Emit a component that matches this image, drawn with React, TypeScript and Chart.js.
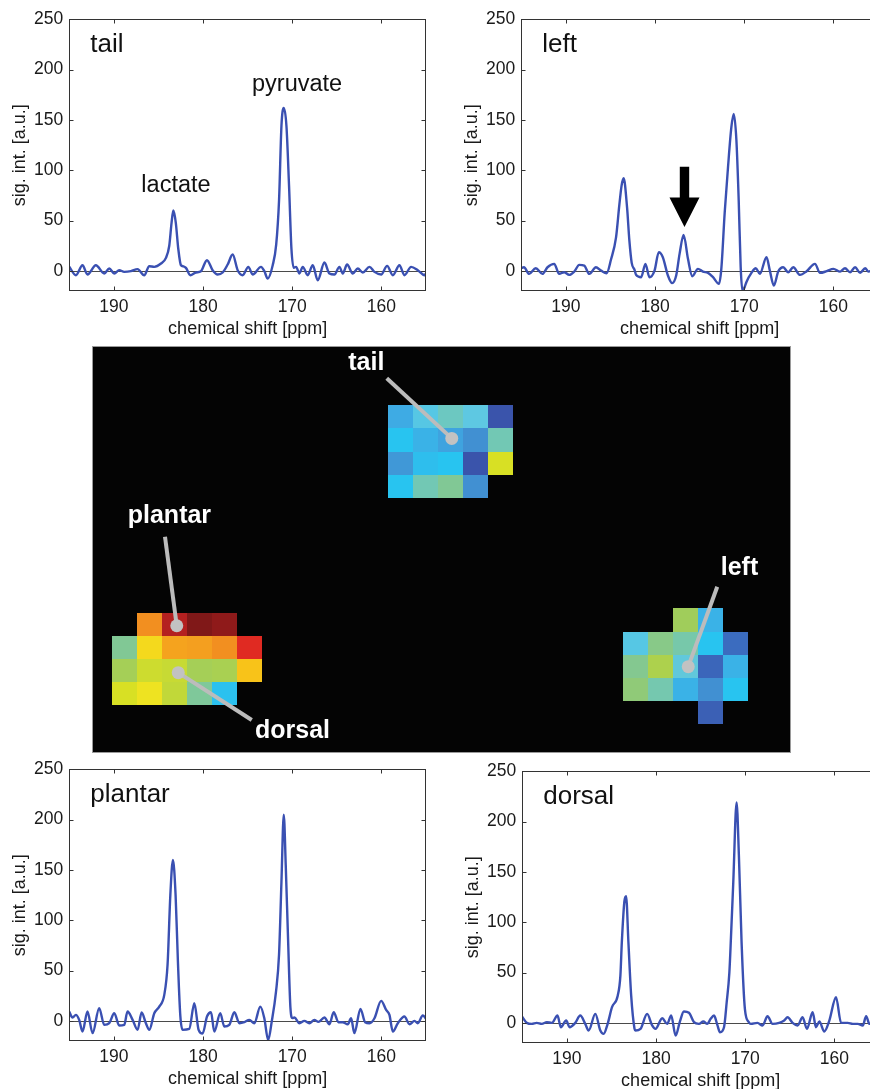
import React, { useEffect, useRef } from "react";
import { Chart, registerables } from "chart.js";

Chart.register(...registerables);

const FONT = "'Liberation Sans', Arial, Helvetica, sans-serif";

// ---------- axis ticks ----------
const ppmTicks = [190, 180, 170, 160];
const sigTicks = [0, 50, 100, 150, 200, 250];

// ---------- spectra (chemical shift [ppm], signal [a.u.]) ----------
const tailPpm = [195.0, 194.26, 193.52, 192.96, 192.02, 191.08, 190.52, 189.96, 189.4, 188.84, 188.09, 187.34, 186.6, 186.03, 185.47, 184.72, 184.16, 183.79, 183.53, 183.33, 183.06, 182.78, 182.48, 182.2, 181.92, 181.43, 180.8, 180.24, 179.56, 178.93, 178.37, 177.8, 177.24, 176.68, 176.12, 175.56, 174.92, 174.44, 173.5, 173.13, 172.75, 172.19, 171.8, 171.48, 171.21, 170.95, 170.65, 170.36, 170.09, 169.83, 169.57, 169.2, 168.82, 168.26, 167.7, 167.14, 166.39, 165.83, 165.27, 164.71, 164.34, 163.85, 163.21, 162.65, 162.09, 161.34, 160.78, 160.03, 159.36, 158.72, 157.98, 157.42, 156.67, 155.92, 155.17, 155.0];
const tailSig = [4.0, -4.3, 5.6, -3.6, 5.6, -2.6, 2.3, -2.6, 0.7, -1.0, -0.3, 1.7, -4.3, 4.6, 4.0, 7.3, 12.9, 25, 48, 60, 48, 22, 5.6, 4.5, 3, -4.3, -1.6, -0.3, 10.6, 0.7, -3.6, -1.6, 6.3, 16.2, 0.7, -4.3, 4.0, -3.6, 4.0, -0.3, -7.6, 5.6, 26, 70, 144, 162, 144, 85, 22, 3, 4.0, -2.6, 4.0, -4.3, 5.6, -9.3, 8.3, -2.6, -3.6, 4.0, -2.6, 6.3, -2.6, 2.3, -1.6, 4.0, -1.0, -3.6, 5.0, -4.3, 5.6, -4.3, 4.0, 0.7, -4.3, -2.6];

const leftPpm = [195.06, 194.7, 194.12, 193.38, 192.63, 192.06, 191.31, 190.75, 190.19, 189.63, 189.06, 188.5, 187.94, 187.38, 186.63, 186.06, 185.43, 184.94, 184.38, 184.0, 183.75, 183.52, 183.14, 182.88, 182.62, 182.3, 182.13, 181.56, 181.08, 180.63, 180.06, 179.58, 179.13, 178.56, 178.08, 177.63, 177.25, 176.8, 176.31, 175.83, 175.19, 174.63, 174.06, 173.5, 172.83, 172.57, 172.19, 171.82, 171.44, 171.18, 170.88, 170.62, 170.4, 170.2, 169.95, 169.75, 169.19, 168.7, 168.25, 167.5, 167.13, 166.68, 166.19, 165.63, 165.07, 164.5, 163.75, 163.0, 162.07, 161.5, 160.75, 160.0, 159.25, 158.7, 158.13, 157.57, 157.0, 156.44, 156.07, 155.5, 155.0];
const leftSig = [2.6, 3.6, -3.0, 2.6, -3.0, 3.6, 7.0, -3.0, -1.3, -4.0, -0.7, 6.0, 5.3, -3.0, 3.6, 0.3, -2.3, 11.3, 33, 66, 85, 92, 63, 30, 8, 1, -4, -6.3, 7, -6.3, 0.3, 18.5, 13.6, -4.6, -12.2, -4.6, 16.9, 35.7, 12, -5.3, 2, -0.7, -2, -6.3, -12.9, 2, 58, 103, 143, 156, 130, 70, 4, -20, -16, -11, -2, 2.6, -3, 13.6, 0.3, -14.6, -0.7, 3.6, -1.3, 3.6, -4, -0.3, 7, -2, -0.3, 2, -0.7, 2.6, -1.3, 3.6, -2, 2.6, -0.7, 1, 0];

const plantarPpm = [195.01, 194.64, 194.26, 193.89, 193.52, 192.96, 192.39, 191.65, 191.08, 190.52, 189.96, 189.4, 188.84, 188.47, 187.9, 187.34, 186.89, 186.41, 186.03, 185.47, 184.91, 184.35, 183.98, 183.67, 183.38, 183.08, 182.82, 182.55, 182.29, 181.55, 180.98, 180.5, 180.05, 179.56, 179.11, 178.74, 178.07, 177.62, 177.06, 176.49, 175.93, 175.37, 174.81, 174.25, 173.58, 173.13, 172.7, 172.3, 171.82, 171.48, 171.21, 170.95, 170.73, 170.47, 170.2, 169.98, 169.76, 169.2, 168.64, 168.08, 167.52, 167.07, 166.39, 165.83, 165.35, 164.82, 164.34, 163.77, 163.4, 163.03, 162.35, 161.83, 161.34, 160.78, 160.03, 159.47, 159.1, 158.72, 158.16, 157.42, 156.85, 156.29, 155.92, 155.36, 154.98];
const plantarSig = [9.3, 3.3, 6, 1, -10.6, 9.3, -12.2, 12.6, -4, -2.3, 7.6, -4.6, -4, 9.3, 1, -8.9, 8.3, -2.3, -8.9, 7.6, 14.2, 25.8, 56, 125, 160, 125, 59, 5, -8.9, -8, 17.5, -8.9, -12.6, 4.3, 8.6, -10.6, 7.6, -5.6, -4, 8.6, -2.3, -1.3, 1, -2.3, 14.2, 2.6, -19, -0.7, 29, 66, 138, 205, 155, 82, 12.6, 2.7, 3.3, -2.3, 0, -2.3, 1, -1, 3.3, -3.3, 8.6, -1.3, -1.3, -3.3, 2.6, -12.2, 11.9, -1.3, -2.3, 2.6, 19.9, 10.9, 6, -10.6, -2.3, 4.3, -3.3, 0, -2.3, 5.3, 2];

const dorsalPpm = [195.06, 194.5, 193.94, 193.38, 192.81, 192.25, 191.69, 191.05, 190.68, 190.08, 189.7, 189.06, 188.5, 187.94, 187.56, 186.81, 186.25, 185.88, 185.43, 184.94, 184.3, 184.0, 183.84, 183.55, 183.36, 183.1, 182.79, 182.42, 182.31, 181.75, 181.0, 180.44, 180.06, 179.31, 178.75, 178.3, 177.81, 177.33, 176.88, 176.31, 175.75, 175.19, 174.7, 174.25, 173.88, 173.5, 173.13, 172.83, 172.38, 172.08, 171.78, 171.6, 171.34, 170.97, 170.71, 170.41, 170.04, 169.59, 169.38, 168.63, 168.06, 167.5, 166.94, 166.19, 165.63, 165.25, 164.69, 164.13, 163.57, 163.08, 162.44, 162.07, 161.69, 161.13, 160.57, 159.82, 159.25, 158.5, 157.94, 157.38, 156.82, 156.44, 156.07, 155.5, 155.0];
const dorsalSig = [6.6, 0, -1, 0, -1, 0.7, 0, 7.3, -4.3, 2.3, -4.3, 0, 7.3, -1, -7.6, 8.9, -7.6, -10.9, -1, 15.6, 27, 47, 80, 121, 126, 80, 27, -5.7, -7.6, -6, 8.9, -2.6, -6, 4.6, -1, 7.3, -12.6, 1.3, 11.3, 10, 0.7, -1, 1.3, -1, 4, 7.3, -2, -9.3, -4.3, 20.5, 50, 85, 140, 219, 166, 80, 14, 0.6, -1, 0, -2.6, 6.6, -1, 0, 2.3, 5.6, 0, -2.6, 5.6, -6, 10.6, -4.3, 1.3, -8.6, 2.3, 25.5, 0, 0, -1, -1, -2.6, 6.6, -1, 0, 1];

// annotations inside spectra
const tailNotes = [
  { text: "lactate", ppm: 186.92, sig: 78.5 },
  { text: "pyruvate", ppm: 174.51, sig: 178.9 },
];
const leftArrow = { ppm: 176.7, top: 103.5, neck: 73, tip: 43.7 };

// ---------- voxel map (values 0..1 mapped through colormap) ----------
const tailVoxels = [
  [0.25, 0.39, 0.45, 0.40, 0.02],
  [0.33, 0.27, 0.23, 0.18, 0.47],
  [0.20, 0.31, 0.33, 0.02, 0.72],
  [0.33, 0.47, 0.53, 0.18, null],
];
const footVoxels = [
  [null, 0.885, 0.965, 1.0, 0.99, null],
  [0.53, 0.80, 0.87, 0.875, 0.885, 0.93],
  [0.62, 0.70, 0.69, 0.62, 0.63, 0.835],
  [0.72, 0.77, 0.68, 0.52, 0.32, null],
];
const leftVoxels = [
  [null, null, 0.61, 0.27, null],
  [0.39, 0.55, 0.49, 0.33, 0.10],
  [0.54, 0.64, 0.41, 0.08, 0.27],
  [0.57, 0.48, 0.27, 0.18, 0.33],
  [null, null, null, 0.06, null],
];
// voxel-grid origins of each slab (in voxel units)
const tailOrigin = [11.85, 2.57];
const footOrigin = [0.81, 11.56];
const leftOrigin = [21.25, 11.36];

const cmapPos = [0.0, 0.1, 0.18, 0.26, 0.33, 0.4, 0.47, 0.54, 0.6, 0.66, 0.72, 0.78, 0.83, 0.88, 0.93, 0.965, 1.0];
const cmapColors = ["#3a4ea6", "#3b6cbf", "#4190d2", "#3dafe6", "#28c4f0", "#5ec8e2", "#72c8b4", "#84c890", "#9ccc60", "#b6d444", "#d8e024", "#f2e420", "#f8c818", "#f49a20", "#e02a22", "#b42020", "#801818"];

// callouts: text anchor, line start, dot (voxel units)
const callouts = [
  { text: "tail", tx: 10.25, ty: 1.04, lx: 11.79, ly: 1.4, dx: 14.39, dy: 4.0 },
  { text: "plantar", tx: 1.43, ty: 7.68, lx: 2.92, ly: 8.26, dx: 3.39, dy: 12.11 },
  { text: "dorsal", tx: 6.52, ty: 16.98, lx: 6.39, ly: 16.19, dx: 3.45, dy: 14.14 },
  { text: "left", tx: 25.15, ty: 9.91, lx: 25.01, ly: 10.42, dx: 23.85, dy: 13.88 },
];

function hexToRgb(h: string) {
  const n = parseInt(h.slice(1), 16);
  return [(n >> 16) & 255, (n >> 8) & 255, n & 255];
}
function cmap(v: number) {
  for (let i = 0; i < cmapPos.length - 1; i++) {
    if (v <= cmapPos[i + 1]) {
      const t = (v - cmapPos[i]) / (cmapPos[i + 1] - cmapPos[i]);
      const a = hexToRgb(cmapColors[i]);
      const b = hexToRgb(cmapColors[i + 1]);
      const c = a.map((x, k) => Math.round(x + (b[k] - x) * t));
      return `rgb(${c[0]},${c[1]},${c[2]})`;
    }
  }
  return cmapColors[cmapColors.length - 1];
}

type Note = { text: string; ppm: number; sig: number };
type Arrow = { ppm: number; top: number; neck: number; tip: number };

function Spectrum(props: { name: string; ppm: number[]; sig: number[]; left: number; top: number; notes?: Note[]; arrow?: Arrow | null }) {
  const ref = useRef<HTMLCanvasElement | null>(null);
  const { name, ppm, sig, left, top, notes = [], arrow = null } = props;
  useEffect(() => {
    if (!ref.current) return;
    const deco = {
      id: "deco",
      beforeDatasetsDraw(chart: any) {
        const { ctx, chartArea: a, scales } = chart;
        const y0 = Math.round(scales.y.getPixelForValue(0)) + 0.5;
        ctx.save();
        ctx.strokeStyle = "#4a4a4a";
        ctx.lineWidth = 1;
        ctx.beginPath();
        ctx.moveTo(a.left, y0);
        ctx.lineTo(a.right, y0);
        ctx.stroke();
        ctx.restore();
      },
      afterDatasetsDraw(chart: any) {
        const { ctx, chartArea: a, scales } = chart;
        const xs = scales.x;
        const ys = scales.y;
        ctx.save();
        ctx.strokeStyle = "#333333";
        ctx.lineWidth = 1;
        const L = Math.round(a.left) + 0.5;
        const R = Math.round(a.right) - 0.5;
        const T = Math.round(a.top) + 0.5;
        const B = Math.round(a.bottom) - 0.5;
        ctx.strokeRect(L, T, R - L, B - T);
        const tl = 4;
        ctx.beginPath();
        ppmTicks.forEach((v) => {
          const px = Math.round(xs.getPixelForValue(v)) + 0.5;
          ctx.moveTo(px, B);
          ctx.lineTo(px, B - tl);
          ctx.moveTo(px, T);
          ctx.lineTo(px, T + tl);
        });
        sigTicks.forEach((v) => {
          const py = Math.round(ys.getPixelForValue(v)) + 0.5;
          ctx.moveTo(L, py);
          ctx.lineTo(L + tl, py);
          ctx.moveTo(R, py);
          ctx.lineTo(R - tl, py);
        });
        ctx.stroke();

        ctx.fillStyle = "#111";
        ctx.textAlign = "left";
        ctx.textBaseline = "alphabetic";
        ctx.font = `26px ${FONT}`;
        ctx.fillText(name, xs.getPixelForValue(192.65), ys.getPixelForValue(218));
        ctx.font = `23.5px ${FONT}`;
        notes.forEach((n) => {
          ctx.fillText(n.text, xs.getPixelForValue(n.ppm), ys.getPixelForValue(n.sig));
        });
        if (arrow) {
          const cx = xs.getPixelForValue(arrow.ppm);
          const yt = ys.getPixelForValue(arrow.top);
          const yn = ys.getPixelForValue(arrow.neck);
          const yp = ys.getPixelForValue(arrow.tip);
          const sw = 4.7;
          const hw = 15;
          ctx.fillStyle = "#000";
          ctx.beginPath();
          ctx.moveTo(cx - sw, yt);
          ctx.lineTo(cx + sw, yt);
          ctx.lineTo(cx + sw, yn);
          ctx.lineTo(cx + hw, yn);
          ctx.lineTo(cx, yp);
          ctx.lineTo(cx - hw, yn);
          ctx.lineTo(cx - sw, yn);
          ctx.closePath();
          ctx.fill();
        }
        ctx.restore();
      },
    };
    const chart = new Chart(ref.current, {
      type: "line",
      data: {
        datasets: [
          {
            data: ppm.map((p, i) => ({ x: p, y: sig[i] })),
            borderColor: "#3a50b2",
            borderWidth: 2.4,
            pointRadius: 0,
            fill: false,
            cubicInterpolationMode: "monotone",
          },
        ],
      },
      options: {
        responsive: false,
        animation: false,
        devicePixelRatio: 1,
        events: [],
        layout: { padding: { left: 0, right: 9, top: 19.3, bottom: 0 } },
        plugins: { legend: { display: false }, tooltip: { enabled: false } },
        scales: {
          x: {
            type: "linear",
            min: 155,
            max: 195,
            reverse: true,
            afterBuildTicks: (s: any) => {
              s.ticks = ppmTicks.map((v) => ({ value: v }));
            },
            afterFit: (s: any) => {
              s.height = 49;
            },
            grid: { display: false, drawTicks: false },
            border: { display: false },
            ticks: { padding: 5.5, color: "#1a1a1a", font: { family: FONT, size: 17.5 }, maxRotation: 0, autoSkip: false },
            title: { display: true, text: "chemical shift [ppm]", color: "#1a1a1a", font: { family: FONT, size: 18 }, padding: { top: 0, bottom: 0.5 } },
          },
          y: {
            type: "linear",
            min: -20,
            max: 250,
            afterBuildTicks: (s: any) => {
              s.ticks = sigTicks.map((v) => ({ value: v }));
            },
            afterFit: (s: any) => {
              s.width = 69.3;
            },
            grid: { display: false, drawTicks: false },
            border: { display: false },
            ticks: { padding: 6, color: "#1a1a1a", font: { family: FONT, size: 17.5 }, autoSkip: false },
            title: { display: true, text: "sig. int. [a.u.]", color: "#1a1a1a", font: { family: FONT, size: 18 }, padding: { top: 9, bottom: 0 } },
          },
        },
      } as any,
      plugins: [deco],
    });
    return () => chart.destroy();
  }, []);
  return (
    <div style={{ position: "absolute", left, top, width: 435, height: 340 }}>
      <canvas ref={ref} width={435} height={340} style={{ width: 435, height: 340, display: "block" }} />
    </div>
  );
}

function VoxelMap(props: { left: number; top: number; width: number; height: number }) {
  const ref = useRef<HTMLCanvasElement | null>(null);
  const { left, top, width, height } = props;
  useEffect(() => {
    if (!ref.current) return;
    const regions = [
      { values: tailVoxels, origin: tailOrigin },
      { values: footVoxels, origin: footOrigin },
      { values: leftVoxels, origin: leftOrigin },
    ];
    const cells: { x: number; y: number; v: number }[] = [];
    regions.forEach((r) =>
      r.values.forEach((row, ri) =>
        row.forEach((v, ci) => {
          if (v !== null) cells.push({ x: r.origin[0] + ci, y: r.origin[1] + ri, v: v as number });
        })
      )
    );
    const vox = {
      id: "vox",
      beforeDatasetsDraw(chart: any) {
        const { ctx, chartArea: a, scales } = chart;
        const xs = scales.x;
        const ys = scales.y;
        ctx.save();
        ctx.fillStyle = "#040404";
        ctx.fillRect(a.left, a.top, a.width, a.height);
        cells.forEach((c) => {
          const x0 = Math.round(xs.getPixelForValue(c.x));
          const x1 = Math.round(xs.getPixelForValue(c.x + 1));
          const y0 = Math.round(ys.getPixelForValue(c.y));
          const y1 = Math.round(ys.getPixelForValue(c.y + 1));
          ctx.fillStyle = cmap(c.v);
          ctx.fillRect(x0, y0, x1 - x0, y1 - y0);
        });
        // callouts
        callouts.forEach((c) => {
          ctx.strokeStyle = "#bcbcbc";
          ctx.lineWidth = 4;
          ctx.lineCap = "butt";
          ctx.beginPath();
          ctx.moveTo(xs.getPixelForValue(c.lx), ys.getPixelForValue(c.ly));
          ctx.lineTo(xs.getPixelForValue(c.dx), ys.getPixelForValue(c.dy));
          ctx.stroke();
          ctx.fillStyle = "#c2c2c2";
          ctx.beginPath();
          ctx.arc(xs.getPixelForValue(c.dx), ys.getPixelForValue(c.dy), 6.5, 0, Math.PI * 2);
          ctx.fill();
          ctx.fillStyle = "#ffffff";
          ctx.font = `bold 25px ${FONT}`;
          ctx.textAlign = "left";
          ctx.textBaseline = "alphabetic";
          ctx.fillText(c.text, xs.getPixelForValue(c.tx), ys.getPixelForValue(c.ty));
        });
        ctx.strokeStyle = "#9a9a9a";
        ctx.lineWidth = 1;
        ctx.strokeRect(a.left + 0.5, a.top + 0.5, a.width - 1, a.height - 1);
        ctx.restore();
      },
    };
    const chart = new Chart(ref.current, {
      type: "scatter",
      data: { datasets: [{ data: cells.map((c) => ({ x: c.x + 0.5, y: c.y + 0.5 })), pointRadius: 0 }] },
      options: {
        responsive: false,
        animation: false,
        devicePixelRatio: 1,
        events: [],
        layout: { padding: 0 },
        plugins: { legend: { display: false }, tooltip: { enabled: false } },
        scales: {
          x: { type: "linear", display: false, min: 0, max: width / 25 },
          y: { type: "linear", display: false, min: 0, max: height / 23.1, reverse: true },
        },
      } as any,
      plugins: [vox],
    });
    return () => chart.destroy();
  }, []);
  return (
    <div style={{ position: "absolute", left, top, width, height }}>
      <canvas ref={ref} width={width} height={height} style={{ width, height, display: "block" }} />
    </div>
  );
}

export default function App() {
  return (
    <div style={{ position: "absolute", left: 0, top: 0, width: 870, height: 1089, overflow: "hidden", background: "#fff" }}>
      <Spectrum name="tail" ppm={tailPpm} sig={tailSig} left={0} top={0} notes={tailNotes} />
      <Spectrum name="left" ppm={leftPpm} sig={leftSig} left={452} top={0} arrow={leftArrow} />
      <VoxelMap left={92} top={346} width={699} height={407} />
      <Spectrum name="plantar" ppm={plantarPpm} sig={plantarSig} left={0} top={750} />
      <Spectrum name="dorsal" ppm={dorsalPpm} sig={dorsalSig} left={453} top={752} />
    </div>
  );
}
